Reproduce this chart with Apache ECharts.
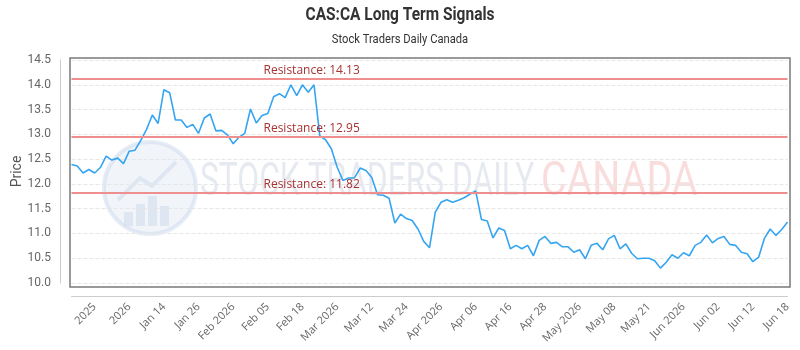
<!DOCTYPE html>
<html>
<head>
<meta charset="utf-8">
<script src="https://cdn.jsdelivr.net/npm/echarts@6/dist/echarts.min.js"></script>
<style>
  html, body { margin: 0; padding: 0; background: #fff; }
  #chart { width: 800px; height: 350px; }
</style>
</head>
<body>
<div id="chart"></div>
<script>
// 数据：收盘价
const prices = [
  12.39, 12.36, 12.22, 12.29, 12.22, 12.33, 12.56, 12.48, 12.52, 12.41,
  12.66, 12.68, 12.88, 13.10, 13.39, 13.22, 13.90, 13.84, 13.29, 13.29,
  13.14, 13.20, 13.02, 13.33, 13.41, 13.07, 13.08, 12.99, 12.81, 12.94,
  13.02, 13.51, 13.23, 13.38, 13.42, 13.76, 13.82, 13.74, 14.00, 13.78,
  14.00, 13.85, 14.00, 12.97, 12.89, 12.71, 12.34, 12.07, 12.12, 12.12,
  12.32, 12.27, 12.13, 11.78, 11.77, 11.71, 11.21, 11.39, 11.30, 11.26,
  11.09, 10.84, 10.71, 11.43, 11.63, 11.68, 11.63, 11.67, 11.72, 11.79,
  11.86, 11.28, 11.25, 10.91, 11.11, 11.06, 10.69, 10.76, 10.69, 10.76,
  10.55, 10.86, 10.94, 10.80, 10.82, 10.73, 10.73, 10.62, 10.67, 10.49,
  10.76, 10.80, 10.67, 10.89, 10.96, 10.69, 10.79, 10.60, 10.49, 10.50,
  10.50, 10.45, 10.30, 10.42, 10.57, 10.50, 10.61, 10.55, 10.76, 10.82,
  10.97, 10.81, 10.90, 10.94, 10.78, 10.76, 10.62, 10.59, 10.43, 10.52,
  10.90, 11.09, 10.96, 11.08, 11.23
];

// x 轴显示的标签（每 6 个点一个）
const tickLabels = [
  '2025', '2026', 'Jan 14', 'Jan 26', 'Feb 2026', 'Feb 05', 'Feb 18',
  'Mar 2026', 'Mar 12', 'Mar 24', 'Apr 2026', 'Apr 06', 'Apr 16', 'Apr 28',
  'May 2026', 'May 08', 'May 21', 'Jun 2026', 'Jun 02', 'Jun 12', 'Jun 18'
];
const tickStart = 4;
const tickStep = 6;

// 阻力位
const resistanceLevels = [14.13, 12.95, 11.82];

// 工具函数：生成工作日日期作为类目
function isWeekday(date) {
  const day = date.getDay();
  return day !== 0 && day !== 6;
}
function generateWeekdays(startDate, count) {
  const out = [];
  let d = new Date(startDate);
  while (out.length < count) {
    if (isWeekday(d)) out.push(d.toISOString().split('T')[0]);
    d.setDate(d.getDate() + 1);
  }
  return out;
}
const categories = generateWeekdays('2025-12-23', prices.length);

const font = "Roboto, sans-serif";
const wmBlue = 'rgba(195,208,228,0.4)';

var myChart = echarts.init(document.getElementById('chart'));

var option = {
  animation: false,
  graphic: [
    // 标题（压窄模拟窄体字）
    {
      type: 'text', silent: true, x: 400, y: 15, scaleX: 0.86,
      style: { text: 'CAS:CA Long Term Signals', fontFamily: font, fontSize: 18, fontWeight: 'bold',
               fill: '#333', align: 'center', verticalAlign: 'middle' }
    },
    {
      type: 'text', silent: true, x: 400, y: 40, scaleX: 0.86,
      style: { text: 'Stock Traders Daily Canada', fontFamily: font, fontSize: 13,
               fill: '#333', align: 'center', verticalAlign: 'middle' }
    },
    // 水印 logo
    {
      type: 'circle', z: -10, silent: true,
      shape: { cx: 150, cy: 188, r: 46 },
      style: { fill: 'rgba(210,222,240,0.3)', stroke: 'rgba(200,212,235,0.45)', lineWidth: 4 }
    },
    { type: 'rect', z: -9, silent: true, shape: { x: 124, y: 212, width: 9, height: 14 }, style: { fill: wmBlue } },
    { type: 'rect', z: -9, silent: true, shape: { x: 136, y: 204, width: 9, height: 22 }, style: { fill: wmBlue } },
    { type: 'rect', z: -9, silent: true, shape: { x: 148, y: 196, width: 9, height: 30 }, style: { fill: wmBlue } },
    { type: 'rect', z: -9, silent: true, shape: { x: 160, y: 206, width: 9, height: 20 }, style: { fill: wmBlue } },
    {
      type: 'polyline', z: -9, silent: true,
      shape: { points: [[118, 200], [140, 178], [152, 186], [176, 162]] },
      style: { stroke: wmBlue, lineWidth: 4, fill: 'none' }
    },
    {
      type: 'text', z: -10, silent: true, x: 200, y: 183, scaleX: 0.69,
      style: { text: 'STOCK TRADERS DAILY', fontFamily: font, fontSize: 46,
               fill: 'rgba(200,208,222,0.45)', verticalAlign: 'middle' }
    },
    {
      type: 'text', z: -10, silent: true, x: 541, y: 183, scaleX: 0.82,
      style: { text: 'CANADA', fontFamily: font, fontSize: 48,
               fill: 'rgba(240,165,165,0.38)', verticalAlign: 'middle' }
    },
    // 外框
    {
      type: 'rect', z: 10, silent: true,
      shape: { x: 70, y: 58, width: 720, height: 229 },
      style: { fill: 'none', stroke: '#7a7a7a', lineWidth: 1.5 }
    }
  ],
  grid: { left: 71.5, right: 12.5, top: 60, bottom: 67, outerBoundsMode: 'none' },
  xAxis: {
    type: 'category',
    boundaryGap: false,
    data: categories,
    offset: 13,
    axisLine: { show: true, lineStyle: { color: '#cccccc' } },
    axisTick: { show: false },
    axisLabel: {
      rotate: 45,
      margin: 9,
      fontSize: 11,
      fontFamily: "'Open Sans', sans-serif",
      color: '#666',
      interval: function (index) { return index >= tickStart && (index - tickStart) % tickStep === 0; },
      formatter: function (value, index) { return tickLabels[(index - tickStart) / tickStep] || ''; }
    },
    splitLine: { show: false }
  },
  yAxis: {
    type: 'value',
    min: 10,
    max: 14.5,
    interval: 0.5,
    offset: 11.5,
    name: 'Price',
    nameLocation: 'middle',
    nameGap: 36,
    nameMoveOverlap: false,
    nameTextStyle: { fontFamily: font, fontSize: 14, color: '#555' },
    axisLine: { show: true, lineStyle: { color: '#cccccc' } },
    axisTick: { show: false },
    axisLabel: {
      margin: 9,
      fontSize: 12,
      fontFamily: font,
      color: '#666',
      formatter: function (v) { return v.toFixed(1); }
    },
    splitLine: { show: true, lineStyle: { color: '#e6e6e6', type: 'dashed' } }
  },
  series: [{
    type: 'line',
    data: prices,
    showSymbol: false,
    z: 3,
    lineStyle: { color: '#35a5f2', width: 1.6 },
    itemStyle: { color: '#35a5f2' },
    markLine: {
      silent: true,
      symbol: 'none',
      lineStyle: { color: '#ee8e8e', width: 2, type: 'solid' },
      label: {
        show: true,
        position: 'insideStartTop',
        distance: 2,
        padding: [0, 0, 0, 190],
        fontSize: 12,
        fontFamily: "'Open Sans', sans-serif",
        color: '#a83232',
        formatter: function (p) { return 'Resistance: ' + p.value.toFixed(2); }
      },
      data: resistanceLevels.map(function (v) { return { yAxis: v }; })
    }
  }]
};

myChart.setOption(option);
</script>
</body>
</html>
